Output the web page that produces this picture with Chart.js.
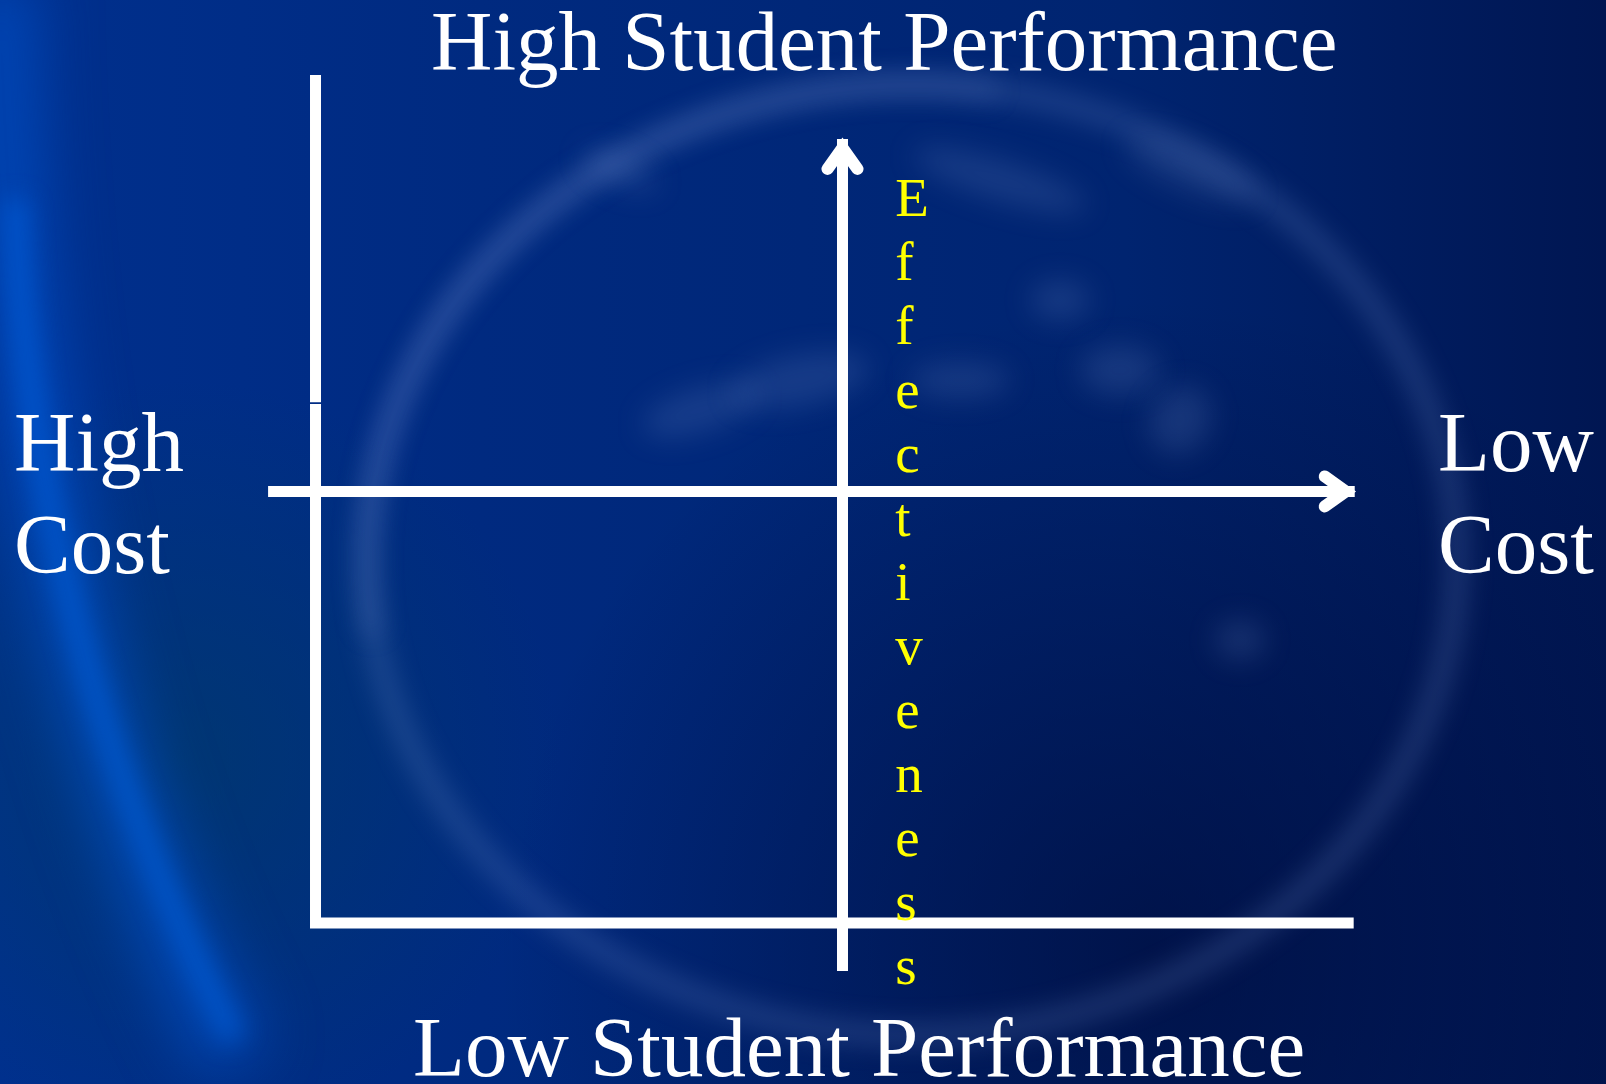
<!DOCTYPE html>
<html>
<head>
<meta charset="utf-8">
<title>Cost and student performance</title>
<script src="https://cdn.jsdelivr.net/npm/chart.js@4.4.1/dist/chart.umd.min.js"></script>
<style>
  html, body { margin: 0; padding: 0; background: #00246e; overflow: hidden; }
  #wrap { width: 1606px; height: 1084px; position: relative; }
</style>
</head>
<body>
<div id="wrap"><canvas id="quadrant"></canvas></div>
<script>
// axes of the diagram, in units where the frame runs from -1 to 1
const costAxis = [{x: -1.09, y: 0}, {x: 0.972, y: 0}];
const effectAxis = [{x: 0, y: -1.111}, {x: 0, y: 0.817}];
const frameTop = [{x: -1, y: 0.965}, {x: -1, y: 0.207}];
const frame = [{x: -1, y: 0.203}, {x: -1, y: -1}, {x: 0.97, y: -1}];

// texts
const topLabel = 'High Student Performance';
const bottomLabel = 'Low Student Performance';
const leftLabel = ['High', 'Cost'];
const rightLabel = ['Low', 'Cost'];
const axisWord = 'Effectiveness';

const SERIF = '"Liberation Serif", "Times New Roman", serif';

// dark blue backdrop with a faded globe behind the diagram
const backdrop = {
  id: 'backdrop',
  beforeDraw(chart) {
    const ctx = chart.ctx;
    const w = chart.width, h = chart.height;
    ctx.save();
    let g = ctx.createLinearGradient(0, 0, w, 0);
    g.addColorStop(0, '#00308e');
    g.addColorStop(0.3, '#002a80');
    g.addColorStop(0.7, '#002470');
    g.addColorStop(1, '#001652');
    ctx.fillStyle = g;
    ctx.fillRect(0, 0, w, h);

    // darker bottom right, teal tint lower left
    g = ctx.createRadialGradient(1150, 950, 0, 1150, 950, 650);
    g.addColorStop(0, 'rgba(0,8,50,0.6)');
    g.addColorStop(1, 'rgba(0,8,50,0)');
    ctx.fillStyle = g;
    ctx.fillRect(0, 0, w, h);
    g = ctx.createRadialGradient(180, 760, 0, 180, 760, 380);
    g.addColorStop(0, 'rgba(0,60,100,0.6)');
    g.addColorStop(1, 'rgba(0,60,100,0)');
    ctx.fillStyle = g;
    ctx.fillRect(0, 0, w, h);

    // bright glow along the left edge
    ctx.filter = 'blur(30px)';
    ctx.strokeStyle = 'rgba(0,80,200,0.7)';
    ctx.lineWidth = 70;
    ctx.beginPath();
    ctx.moveTo(0, -20);
    ctx.quadraticCurveTo(10, 640, 235, 1060);
    ctx.stroke();
    ctx.filter = 'blur(12px)';
    ctx.strokeStyle = 'rgba(0,100,230,0.55)';
    ctx.lineWidth = 24;
    ctx.beginPath();
    ctx.moveTo(15, 200);
    ctx.quadraticCurveTo(30, 640, 235, 1040);
    ctx.stroke();

    // globe rim
    ctx.filter = 'blur(12px)';
    ctx.strokeStyle = 'rgba(120,150,215,0.22)';
    ctx.lineWidth = 24;
    ctx.beginPath();
    ctx.ellipse(912, 560, 545, 475, 0, 0, Math.PI * 2);
    ctx.stroke();
    ctx.strokeStyle = 'rgba(120,150,215,0.14)';
    ctx.beginPath();
    ctx.ellipse(912, 560, 545, 475, 0, Math.PI * 0.95, Math.PI * 1.55);
    ctx.stroke();

    // faint land shapes inside the globe
    ctx.filter = 'blur(14px)';
    ctx.fillStyle = 'rgba(110,140,200,0.2)';
    const blobs = [[700, 410, 60, 22, -0.3], [800, 380, 70, 25, -0.2], [1120, 370, 40, 25, 0],
                   [1000, 180, 90, 20, 0.3], [1180, 420, 30, 35, 0.5], [960, 380, 50, 18, 0],
                   [1240, 640, 25, 20, 0], [620, 170, 40, 15, 0.4], [1190, 170, 70, 20, 0.4],
                   [1060, 300, 30, 20, 0]];
    blobs.forEach(b => {
      ctx.beginPath();
      ctx.ellipse(b[0], b[1], b[2], b[3], b[4], 0, Math.PI * 2);
      ctx.fill();
    });
    ctx.restore();
  }
};

// arrow heads on the datasets flagged with arrow: true
const arrowHeads = {
  id: 'arrowHeads',
  afterDatasetsDraw(chart) {
    const ctx = chart.ctx;
    chart.data.datasets.forEach((ds, i) => {
      if (!ds.arrow) return;
      const pts = chart.getDatasetMeta(i).data;
      const tip = pts[pts.length - 1], prev = pts[pts.length - 2];
      const len = Math.hypot(tip.x - prev.x, tip.y - prev.y);
      const dx = (tip.x - prev.x) / len, dy = (tip.y - prev.y) / len;
      const nx = -dy, ny = dx;
      const vx = tip.x - 9 * dx, vy = tip.y - 9 * dy;
      const bx = vx - 21 * dx, by = vy - 21 * dy;
      const side = 15;
      ctx.save();
      ctx.fillStyle = '#ffffff';
      ctx.strokeStyle = '#ffffff';
      ctx.lineWidth = 12;
      ctx.lineJoin = 'miter';
      ctx.lineCap = 'round';
      ctx.beginPath();
      ctx.moveTo(bx + side * nx, by + side * ny);
      ctx.lineTo(vx, vy);
      ctx.lineTo(bx - side * nx, by - side * ny);
      ctx.lineTo(vx - 14 * dx, vy - 14 * dy);
      ctx.closePath();
      ctx.fill();
      ctx.beginPath();
      ctx.moveTo(bx + side * nx, by + side * ny);
      ctx.lineTo(vx, vy);
      ctx.lineTo(bx - side * nx, by - side * ny);
      ctx.stroke();
      ctx.restore();
    });
  }
};

// quadrant captions and the vertical axis word
const captions = {
  id: 'captions',
  afterDraw(chart) {
    const ctx = chart.ctx;
    const xs = chart.scales.x;
    ctx.save();
    ctx.textAlign = 'left';
    ctx.textBaseline = 'alphabetic';
    ctx.fillStyle = '#ffffff';
    ctx.font = '85px ' + SERIF;
    ctx.fillText(topLabel, 431, 70);
    ctx.fillText(bottomLabel, 413, 1076);
    leftLabel.forEach((t, k) => ctx.fillText(t, 14, 471 + k * 102));
    rightLabel.forEach((t, k) => ctx.fillText(t, 1438, 471 + k * 102));

    ctx.fillStyle = '#ffff00';
    ctx.font = '55px ' + SERIF;
    const lx = xs.getPixelForValue(0.1);
    axisWord.split('').forEach((ch, k) => ctx.fillText(ch, lx, 216 + k * 64));
    ctx.restore();
  }
};

const lineStyle = {
  showLine: true,
  borderColor: '#ffffff',
  borderWidth: 11,
  borderCapStyle: 'butt',
  borderJoinStyle: 'miter',
  pointRadius: 0,
  pointHoverRadius: 0,
  tension: 0,
  fill: false
};

new Chart(document.getElementById('quadrant'), {
  type: 'scatter',
  data: {
    datasets: [
      Object.assign({label: 'frame top', data: frameTop}, lineStyle),
      Object.assign({label: 'frame', data: frame}, lineStyle),
      Object.assign({label: 'cost', data: costAxis, arrow: true}, lineStyle),
      Object.assign({label: 'effectiveness', data: effectAxis, arrow: true}, lineStyle)
    ]
  },
  options: {
    responsive: true,
    maintainAspectRatio: false,
    animation: false,
    layout: { padding: 0 },
    plugins: { legend: { display: false }, tooltip: { enabled: false }, title: { display: false } },
    scales: {
      x: { type: 'linear', min: -1.5987, max: 1.4488, display: false },
      y: { type: 'linear', min: -1.3731, max: 1.1390, display: false }
    }
  },
  plugins: [backdrop, arrowHeads, captions]
});
</script>
</body>
</html>
